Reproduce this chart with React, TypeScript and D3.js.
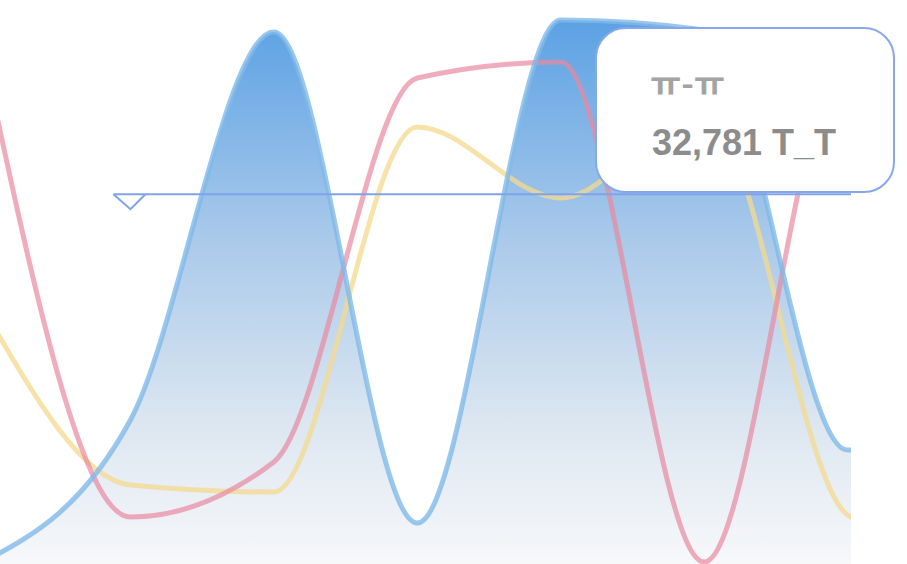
import { useEffect, useRef } from "react";
import * as d3 from "d3";

const WIDTH = 907;
const HEIGHT = 564;
const PLOT_RIGHT = 851;

// sample positions (the first and last fall outside the visible plot)
const steps = [0, 1, 2, 3, 4, 5, 6, 7];
const blueValues = [350, 12766, 47162, 3635, 48226, 47339, 10106, 10993];
const pinkValues = [43793, 4167, 9042, 43084, 44502, 177, 45388, 45000];
const yellowValues = [22073, 7003, 6383, 38740, 32446, 40247, 4344, 0];
const markerValue = 32781;
const markerStep = 1;
const tooltipTitle = "ㅠ-ㅠ";
const tooltipLabel = "T_T";

type Pt = { i: number; v: number };

const toPoints = (vals: number[]): Pt[] => steps.map((i) => ({ i, v: vals[i] }));

export default function App() {
  const svgRef = useRef<SVGSVGElement>(null);

  useEffect(() => {
    const svg = d3.select(svgRef.current);
    svg.selectAll("*").remove();

    const x = d3.scaleLinear().domain([0, 7]).range([-13, 991]);
    const y = d3.scaleLinear().domain([0, 50000]).range([HEIGHT, 0]);

    const defs = svg.append("defs");
    const grad = defs
      .append("linearGradient")
      .attr("id", "blueFill")
      .attr("gradientUnits", "userSpaceOnUse")
      .attr("x1", 0)
      .attr("x2", 0)
      .attr("y1", 18)
      .attr("y2", HEIGHT);
    grad.append("stop").attr("offset", "0%").attr("stop-color", "#5ba1e4");
    grad.append("stop").attr("offset", "40%").attr("stop-color", "#a9c9ea");
    grad.append("stop").attr("offset", "75%").attr("stop-color", "#dde7f1");
    grad.append("stop").attr("offset", "100%").attr("stop-color", "#f7f8fa");

    defs
      .append("clipPath")
      .attr("id", "plotClip")
      .append("rect")
      .attr("x", 0)
      .attr("y", 0)
      .attr("width", PLOT_RIGHT)
      .attr("height", HEIGHT);

    const plot = svg.append("g").attr("clip-path", "url(#plotClip)");

    const line = d3
      .line<Pt>()
      .x((d) => x(d.i))
      .y((d) => y(d.v))
      .curve(d3.curveMonotoneX);

    const area = d3
      .area<Pt>()
      .x((d) => x(d.i))
      .y0(HEIGHT)
      .y1((d) => y(d.v))
      .curve(d3.curveMonotoneX);

    plot.append("path").datum(toPoints(blueValues)).attr("d", area).attr("fill", "url(#blueFill)");

    plot
      .append("path")
      .datum(toPoints(yellowValues))
      .attr("d", line)
      .attr("fill", "none")
      .attr("stroke", "#f4d98e")
      .attr("stroke-opacity", 0.75)
      .attr("stroke-width", 5);

    plot
      .append("path")
      .datum(toPoints(pinkValues))
      .attr("d", line)
      .attr("fill", "none")
      .attr("stroke", "#e8899f")
      .attr("stroke-opacity", 0.7)
      .attr("stroke-width", 5);

    plot
      .append("path")
      .datum(toPoints(blueValues))
      .attr("d", line)
      .attr("fill", "none")
      .attr("stroke", "#7fb9e8")
      .attr("stroke-opacity", 0.8)
      .attr("stroke-width", 5);

    // marker line with a down-pointing triangle
    const my = y(markerValue);
    const mx = x(markerStep);
    svg
      .append("line")
      .attr("x1", mx - 17)
      .attr("x2", PLOT_RIGHT)
      .attr("y1", my)
      .attr("y2", my)
      .attr("stroke", "#7fa3ea")
      .attr("stroke-width", 2);
    svg
      .append("path")
      .attr("d", `M${mx - 17},${my} L${mx},${my + 15} L${mx + 15},${my}`)
      .attr("fill", "none")
      .attr("stroke", "#7fa3ea")
      .attr("stroke-width", 2);

    // tooltip
    const tip = svg.append("g");
    tip
      .append("rect")
      .attr("x", 596)
      .attr("y", 28)
      .attr("width", 298)
      .attr("height", 164)
      .attr("rx", 30)
      .attr("fill", "#ffffff")
      .attr("stroke", "#86a8ea")
      .attr("stroke-width", 2);
    tip
      .append("text")
      .attr("x", 650)
      .attr("y", 96)
      .attr("fill", "#a3a3a3")
      .attr("font-family", "'Noto Sans CJK KR', sans-serif")
      .attr("font-weight", "bold")
      .attr("font-size", 34)
      .text(tooltipTitle);
    tip
      .append("text")
      .attr("x", 652)
      .attr("y", 155)
      .attr("fill", "#8c8c8c")
      .attr("font-family", "'Liberation Sans', Arial, sans-serif")
      .attr("font-weight", "bold")
      .attr("font-size", 36)
      .text(`${d3.format(",")(markerValue)} ${tooltipLabel}`);
  }, []);

  return (
    <svg
      ref={svgRef}
      width={WIDTH}
      height={HEIGHT}
      style={{ position: "fixed", left: 0, top: 0, background: "#ffffff" }}
    />
  );
}
